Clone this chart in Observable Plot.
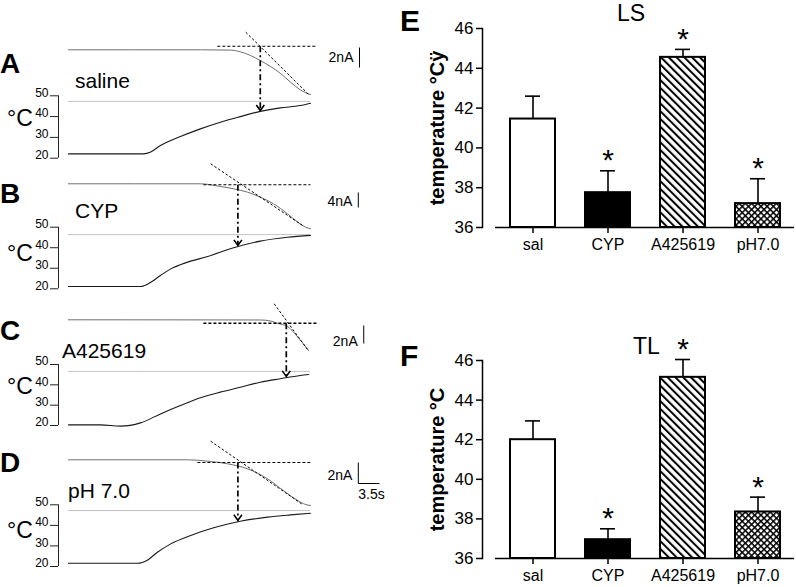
<!DOCTYPE html>
<html><head><meta charset="utf-8">
<script src="https://cdn.jsdelivr.net/npm/d3@7"></script>
<script src="https://cdn.jsdelivr.net/npm/@observablehq/plot@0.6"></script>
<style>
body{margin:0;background:#fff;font-family:"Liberation Sans",Arial,sans-serif;}
#fig{position:relative;width:796px;height:587px;overflow:hidden;background:#fff;}
#fig svg{position:absolute;}
.lbl{position:absolute;white-space:nowrap;line-height:1;color:#000;}
</style></head><body>
<svg width="0" height="0" style="position:absolute"><defs>
<pattern id="hatchDiag" patternUnits="userSpaceOnUse" width="5.5" height="10" patternTransform="rotate(-45)">
<rect width="5.5" height="10" fill="white"/><rect width="2" height="10" fill="black"/></pattern>
<pattern id="hatchCross" patternUnits="userSpaceOnUse" width="4.4" height="4.4" patternTransform="rotate(45)">
<rect width="4.4" height="4.4" fill="white"/><rect width="1.5" height="4.4" fill="black"/><rect width="4.4" height="1.5" fill="black"/></pattern>
</defs></svg>
<div id="fig"></div>
<script>
const FONT = '"Liberation Sans", Arial, sans-serif';

// ---------- Panels A-D : traces ----------
const panelLetters = ["A", "B", "C", "D"];
const drugLabels = ["saline", "CYP", "A425619", "pH 7.0"];
const nAScale = [2, 4, 2, 2];           // current scale bar (nA)
const timeScaleS = 3.5;                 // time scale bar (s)
const T_END = 40;                       // trace duration (s)
const T_AXIS = -1.65;                   // time where the °C axis sits
const tempTicks = [20, 30, 40, 50];

// current traces: time (s), current relative to baseline (nA)
const aCurT = [0, 21.8, 26.8, 28.4, 30.1, 31.7, 33.4, 35.0, 36.7, 38.3, 39.2, 40];
const aCurI = [0, 0, -0.03, -0.2, -0.57, -1.07, -1.67, -2.34, -3.24, -4.0, -4.3, -4.47];
const bCurT = [0, 21.8, 25.1, 27.3, 29.6, 31.7, 33.9, 36.2, 37.9, 39.2, 40];
const bCurI = [0, 0, -0.72, -1.33, -2.24, -3.57, -5.33, -8.0, -10.24, -11.57, -12.0];
const cCurT = [0, 31.7, 33.4, 34.5, 36.2, 37.9, 39.7];
const cCurI = [0, -0.02, -0.13, -0.38, -0.74, -1.93, -3.41];
const dCurT = [0, 19.7, 23.0, 26.3, 29.6, 32.9, 35.5, 37.9, 39.2, 40];
const dCurI = [0, 0, -0.13, -0.38, -0.86, -1.81, -2.92, -3.88, -4.26, -4.35];

// temperature traces: time (s), temperature (°C)
const aTmpT = [0, 12.4, 13.6, 15.2, 18.5, 21.8, 25.1, 28.4, 31.7, 35.0, 38.3, 40];
const aTmpC = [22.1, 22.1, 23.0, 26.1, 30.4, 34.1, 37.3, 40.0, 42.5, 44.2, 45.3, 46.4];
const bTmpT = [0, 11.9, 13.6, 15.2, 16.9, 19.7, 23.0, 27.3, 31.7, 36.2, 40];
const bTmpC = [21.1, 21.1, 23.2, 26.5, 29.7, 33.0, 35.7, 40.0, 43.2, 45.1, 46.0];
const cTmpT = [0, 5.3, 8.6, 11.9, 15.2, 18.5, 21.8, 25.1, 28.4, 31.7, 35.0, 38.3, 39.7];
const cTmpC = [20.3, 20.3, 19.7, 21.3, 25.7, 29.8, 33.6, 36.4, 38.8, 41.3, 43.0, 44.6, 45.1];
const dTmpT = [0, 11.4, 13.1, 14.7, 16.9, 20.2, 24.0, 28.4, 32.9, 36.7, 40];
const dTmpC = [21.6, 21.6, 23.2, 26.9, 31.0, 35.1, 38.8, 42.0, 44.0, 45.1, 45.9];

// baseline (dashed horizontal) : level (nA), start/end time (s)
const baseI = [0.36, -0.27, -0.38, -0.26];
const baseT0 = [24.6, 22.3, 22.3, 21.3];
const baseT1 = [40.8, 40, 41.2, 40];
// tangent (dashed slanted): from (t1,I1) to (t2,I2)
const tanT1 = [29.3, 23.5, 34.0, 23.5];
const tanI1 = [1.76, 5.33, 1.78, 1.77];
const tanT2 = [39.7, 38.7, 39.7, 38.7];
const tanI2 = [-4.47, -11.12, -3.49, -4.26];
// activation threshold: time (s) and temperature (°C)
const thrT = [31.7, 28.0, 36.0, 28.0];
const thrC = [42.9, 41.1, 44.1, 42.4];
// grey reference line temperature (°C)
const refC = [47.3, 46.4, 46.6, 47.2];
// scale bar: time (s), top level (nA)
const sbT = [48.1, 47.9, 48.8, 47.9];
const sbI = [0.23, -2.32, -0.63, -0.26];

const curT = [aCurT, bCurT, cCurT, dCurT], curI = [aCurI, bCurI, cCurI, dCurI];
const tmpT = [aTmpT, bTmpT, cTmpT, dTmpT], tmpC = [aTmpC, bTmpC, cTmpC, dTmpC];

// layout (page pixels)
const panelTop = [25, 160, 290, 430];
const panelH = [135, 130, 140, 157];
const y50px = [95.3, 226.7, 364, 504.3];
const y20px = [157.7, 288.3, 425, 566];
const curBasePx = [49.3, 183.3, 319.3, 459.3];
const pxPerNA = [10, 3.75, 9, 10.5];
const nALabelDy = [0, 2, 7, 2];

// open chevron arrow head, tip at the symbol's origin
const chevron = {
  draw(ctx, size) {
    const s = Math.sqrt(size / Math.PI);
    ctx.moveTo(-s, -1.4 * s); ctx.lineTo(0, 0); ctx.lineTo(s, -1.4 * s);
  }
};

const fig = document.getElementById("fig");
function place(el, left, top) { el.style.left = left + "px"; el.style.top = top + "px"; fig.appendChild(el); }
function label(text, left, top, size, weight) {
  const d = document.createElement("div");
  d.className = "lbl"; d.textContent = text;
  d.style.fontSize = size + "px"; d.style.fontWeight = weight || "normal";
  place(d, left, top);
}

for (let i = 0; i < 4; i++) {
  const top = panelTop[i];
  const a = (y20px[i] - y50px[i]) / 30;
  const toC = I => 50 + (y50px[i] - (curBasePx[i] - I * pxPerNA[i])) / a;
  const cur = curT[i].map((t, k) => ({t, v: toC(curI[i][k])}));
  const tmp = tmpT[i].map((t, k) => ({t, v: tmpC[i][k]}));
  const base = [{x1: baseT0[i], x2: baseT1[i], y: toC(baseI[i])}];
  const tan = [{x1: tanT1[i], y1: toC(tanI1[i]), x2: tanT2[i], y2: toC(tanI2[i])}];
  const thr = [{t: thrT[i], y1: toC(baseI[i]), y2: thrC[i]}];
  const sb = [{t: sbT[i], y1: toC(sbI[i]), y2: toC(sbI[i] - nAScale[i]), mid: toC(sbI[i] - nAScale[i] / 2), t2: sbT[i] + timeScaleS}];
  const marks = [
    Plot.ruleY([refC[i]], {x1: 0, x2: T_END, stroke: "#c4c4c4", strokeWidth: 1}),
    Plot.line(tmp, {x: "t", y: "v", curve: "monotone-x", stroke: "#1a1a1a", strokeWidth: 1.1}),
    Plot.line(cur, {x: "t", y: "v", curve: "monotone-x", stroke: "#6e6e6e", strokeWidth: 1}),
    Plot.link(base, {x1: "x1", x2: "x2", y1: "y", y2: "y", stroke: "black", strokeWidth: i === 2 ? 1.6 : 1.1, strokeDasharray: "3,2"}),
    Plot.link(tan, {x1: "x1", y1: "y1", x2: "x2", y2: "y2", stroke: "black", strokeWidth: 1, strokeDasharray: "2.5,2"}),
    Plot.link(thr, {x1: "t", x2: "t", y1: "y1", y2: "y2", stroke: "black", strokeWidth: 1.7, strokeDasharray: "6,3,2,3"}),
    Plot.dot(thr, {x: "t", y: "y2", symbol: chevron, r: 4, fill: "none", stroke: "black", strokeWidth: 1.6}),
    Plot.ruleX([T_AXIS], {y1: 20, y2: 50, stroke: "#222", strokeWidth: 1}),
    Plot.axisY({ticks: tempTicks, tickSize: 8, tickFormat: () => "", stroke: "#222", label: null}),
    Plot.axisY({ticks: tempTicks, tickSize: 0, tickPadding: 10, dy: -3, fontSize: 12, label: null}),
    Plot.link(sb, {x1: "t", x2: "t", y1: "y1", y2: "y2", stroke: "black", strokeWidth: 1}),
    Plot.text(sb, {x: "t", y: "mid", text: () => nAScale[i] + "nA", textAnchor: "end", dx: -6, dy: nALabelDy[i], fontSize: 14})
  ];
  if (i === 3) {
    marks.push(Plot.link(sb, {x1: "t", x2: "t2", y1: "y2", y2: "y2", stroke: "black", strokeWidth: 1}));
    marks.push(Plot.text(sb, {x: "t", y: "y2", text: () => timeScaleS + "s", textAnchor: "start", dy: 11, fontSize: 14}));
  }
  const svg = Plot.plot({
    width: 400, height: panelH[i],
    marginLeft: 58, marginRight: 90, marginTop: 0, marginBottom: 0,
    style: {background: "none", overflow: "visible", fontFamily: FONT, color: "black"},
    x: {domain: [T_AXIS, T_END], range: [58, 310], axis: null},
    y: {domain: [20, 50], range: [y20px[i] - top, y50px[i] - top]},
    marks
  });
  place(svg, 0, top);
}

// HTML labels for traces
const letterTop = [49.5, 179.5, 316.5, 448.5];
const degTop = [107, 242, 375, 519];
const drugTop = [70, 200, 340, 480];
const drugLeft = [75, 75, 62, 68];
for (let i = 0; i < 4; i++) {
  label(panelLetters[i], 0, letterTop[i], 28, "bold");
  label("°C", 7, degTop[i], 23);
  label(drugLabels[i], drugLeft[i], drugTop[i], 21);
}

// ---------- Panels E, F : bar charts ----------
const cats = ["sal", "CYP", "A425619", "pH7.0"];
const lsMean = [41.45, 37.75, 44.55, 37.2];
const lsTop = [42.6, 38.85, 44.95, 38.45];     // mean + SEM
const lsSig = [false, true, true, true];
const tlMean = [42.0, 36.95, 45.15, 38.35];
const tlTop = [42.95, 37.5, 46.05, 39.1];      // mean + SEM
const tlSig = [false, true, true, true];
const barTicks = [36, 38, 40, 42, 44, 46];
const barFills = ["white", "black", "url(#hatchDiag)", "url(#hatchCross)"];

function barChart(means, tops, sig, yLabel, top, height, y46, y36) {
  const rows = cats.map((c, k) => ({cat: c, mean: means[k], top: tops[k], sig: sig[k]}));
  const svg = Plot.plot({
    width: 396, height,
    marginLeft: 82, marginRight: 2, marginTop: y46, marginBottom: height - y36,
    style: {background: "none", overflow: "visible", fontFamily: FONT, fontSize: "17px", color: "black"},
    x: {domain: cats, range: [95, 394], paddingInner: 0.4, paddingOuter: 0.193},
    y: {domain: [36, 46], range: [y36, y46]},
    color: {domain: cats, range: barFills},
    marks: [
      Plot.barY(rows, {x: "cat", y1: 36, y2: "mean", fill: "cat", stroke: "black", strokeWidth: 2}),
      Plot.ruleX(rows, {x: "cat", y1: "mean", y2: "top", stroke: "black", strokeWidth: 1.6}),
      Plot.tickY(rows, {x: "cat", y: "top", insetLeft: 15, insetRight: 15, stroke: "black", strokeWidth: 1.6}),
      Plot.text(rows.filter(d => d.sig), {x: "cat", y: "top", text: () => "*", fontSize: 30, dy: -10}),
      Plot.axisY({ticks: barTicks, tickSize: 6, tickPadding: 3, strokeWidth: 1.5, label: null}),
      Plot.axisX({tickSize: 6, tickPadding: 5, fontSize: 16, strokeWidth: 1.5, label: null}),
      Plot.frame({anchor: "left", stroke: "black", strokeWidth: 1.5}),
      Plot.ruleY([36], {insetLeft: 13, stroke: "black", strokeWidth: 1.5}),
      Plot.text([yLabel], {frameAnchor: "left", textAnchor: "middle", rotate: -90, dx: -45, fontSize: 20, fontWeight: "bold"})
    ]
  });
  place(svg, 400, top);
}
barChart(lsMean, lsTop, lsSig, "temperature °Cÿ", 0, 260, 28, 227);
barChart(tlMean, tlTop, tlSig, "temperature °C", 290, 297, 70, 268);

label("E", 400, 6, 30, "bold");
label("F", 400, 341, 30, "bold");
label("LS", 617, 2, 23);
label("TL", 633, 335, 23);
</script>
</body></html>
